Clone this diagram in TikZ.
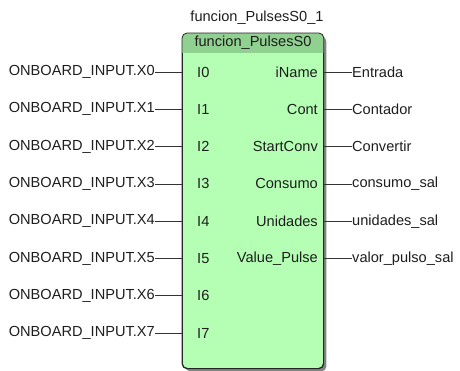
\documentclass[tikz,border=0pt]{standalone}
\usepackage{fontspec}
\setmainfont{Liberation Sans}
\usepackage{tikz}
\usetikzlibrary{shadows}

\definecolor{fbbody}{HTML}{B4FFB4}
\definecolor{fbhead}{HTML}{90D090}
\definecolor{txt}{HTML}{1E1E1E}

\tikzset{
  lbl/.style={inner sep=0pt, text=txt, font=\fontsize{14.6}{16}\selectfont},
  wire/.style={draw=black!80, line width=0.8pt},
  fb/.style={draw=black!85, line width=0.8pt, rounded corners=5pt, fill=fbbody,
    drop shadow={shadow xshift=3pt, shadow yshift=-3pt, fill=black!60, opacity=0.8}}
}

\begin{document}
\begin{tikzpicture}[x=1pt,y=-1pt]
			\useasboundingbox (0,0) rectangle (460,370);
			% block
			\node[fb, anchor=north west, minimum width=141pt, minimum height=335pt] (blk) at (182,33) {};
			\begin{scope}
				\clip[rounded corners=5pt] (blk.south west) rectangle (blk.north east);
				\fill[fbhead] (blk.north west) rectangle ([yshift=-20pt]blk.north east);
			\end{scope}
			\draw[draw=black!85, line width=0.8pt, rounded corners=5pt] (blk.south west) rectangle (blk.north east);
			\node[lbl] (inst) at (257,18) {funcion\_PulsesS0\_1};
			\node[lbl] (typ) at (253,43) {funcion\_PulsesS0};
			% inputs
			\foreach \i in {0,...,7} {
				\node[lbl, anchor=east] (in\i) at (155,72+37.3*\i) {ONBOARD\_INPUT.X\i};
				\node[lbl, anchor=west] (pin\i) at (197,72+37.3*\i) {I\i};
				\draw[wire] (in\i.east) -- (in\i.east -| blk.west);
			}
			% outputs
			\foreach \p/\v [count=\j from 0] in {iName/Entrada, Cont/Contador, StartConv/Convertir,
				Consumo/consumo\_sal, Unidades/unidades\_sal, Value\_Pulse/valor\_pulso\_sal} {
				\node[lbl, anchor=east] (pout\j) at (318,72+37.3*\j) {\p};
				\node[lbl, anchor=west] (out\j) at (352,72+37.3*\j) {\v};
				\draw[wire] (out\j.west -| blk.east) -- (out\j.west);
			}
		\end{tikzpicture}
\end{document}
